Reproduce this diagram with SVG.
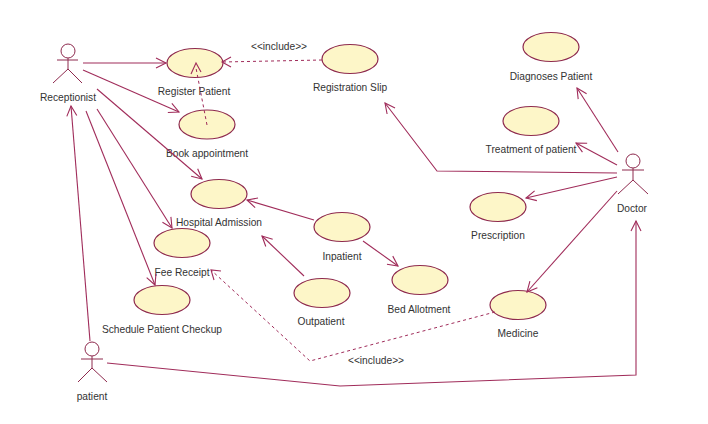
<svg xmlns="http://www.w3.org/2000/svg" width="708" height="424" viewBox="0 0 708 424">
<style>
.uc{fill:#fdf6c8;stroke:#8e2a4e;stroke-width:1.2}
.a{fill:none;stroke:#8e2a4e;stroke-width:1}
.c{fill:none;stroke:#a02c5a;stroke-width:1.1;marker-end:url(#h)}
.d{fill:none;stroke:#a02c5a;stroke-width:1;stroke-dasharray:3 3}
.h{fill:none;stroke:#a02c5a;stroke-width:1.1}
text{font-family:"Liberation Sans",Arial,sans-serif;font-size:10.2px;fill:#333;text-anchor:middle}
</style>
<defs>
<marker id="h" markerUnits="userSpaceOnUse" markerWidth="14" markerHeight="14" refX="11" refY="6" orient="auto"><path d="M1 1L11 6L1 11" fill="none" stroke="#a02c5a" stroke-width="1.1"/></marker>
</defs>
<rect width="708" height="424" fill="#fff"/>
<g id="receptionist"><circle class="a" cx="68" cy="51" r="7"/><path class="a" d="M57 60H78M68 58V69L53 83M68 69L82 83"/><text x="68" y="101">Receptionist</text></g>
<g id="patient"><circle class="a" cx="92" cy="349" r="7"/><path class="a" d="M81 359H103M92 356V368L78 382M92 368L107 382"/><text x="92" y="400">patient</text></g>
<g id="doctor"><circle class="a" cx="633" cy="161" r="7"/><path class="a" d="M622 170H644M633 168V180L618 194M633 180L648 194"/><text x="632" y="212">Doctor</text></g>
<g id="register-patient"><ellipse class="uc" cx="195" cy="63" rx="28" ry="14.5"/><text x="194" y="95">Register Patient</text></g>
<g id="book-appointment"><ellipse class="uc" cx="207" cy="124.500" rx="28" ry="14.5"/><text x="207" y="157">Book appointment</text></g>
<g id="hospital-admission"><ellipse class="uc" cx="219" cy="194" rx="28" ry="14.5"/><text x="219" y="226">Hospital Admission</text></g>
<g id="fee-receipt"><ellipse class="uc" cx="182" cy="243" rx="28" ry="14.5"/><text x="182" y="276">Fee Receipt</text></g>
<g id="schedule-patient-checkup"><ellipse class="uc" cx="162" cy="300" rx="28" ry="14.5"/><text x="162" y="333">Schedule Patient Checkup</text></g>
<g id="registration-slip"><ellipse class="uc" cx="350" cy="59" rx="28" ry="14.5"/><text x="350" y="91">Registration Slip</text></g>
<g id="inpatient"><ellipse class="uc" cx="342" cy="227" rx="28" ry="14.5"/><text x="342" y="260">Inpatient</text></g>
<g id="outpatient"><ellipse class="uc" cx="322" cy="293" rx="28" ry="14.5"/><text x="321" y="325">Outpatient</text></g>
<g id="bed-allotment"><ellipse class="uc" cx="420" cy="280" rx="28" ry="14.5"/><text x="419" y="313">Bed Allotment</text></g>
<g id="medicine"><ellipse class="uc" cx="518" cy="305" rx="28" ry="14.5"/><text x="518" y="337">Medicine</text></g>
<g id="diagnoses-patient"><ellipse class="uc" cx="551" cy="47" rx="28" ry="14.5"/><text x="551" y="80">Diagnoses Patient</text></g>
<g id="treatment-of-patient"><ellipse class="uc" cx="531" cy="121" rx="28" ry="14.5"/><text x="531" y="153">Treatment of patient</text></g>
<g id="prescription"><ellipse class="uc" cx="498" cy="207" rx="28" ry="14.5"/><text x="498" y="239">Prescription</text></g>
<g id="connectors">
<path class="c" d="M83 63H166"/>
<path class="c" d="M83 70L179 112"/>
<path class="c" d="M97 89L202 179"/>
<path class="c" d="M97 109L172 228"/>
<path class="c" d="M86 111L155 285"/>
<path class="c" d="M90 341L71 106"/>
<path class="c" d="M107 363L340 386L636 375V221"/>
<path class="c" d="M617 173L437 171L385 103"/>
<path class="c" d="M618 152L577 88"/>
<path class="c" d="M617 165L576 143"/>
<path class="c" d="M617 177L526 198"/>
<path class="c" d="M617 191L527 292"/>
<path class="c" d="M314 220L247 200"/>
<path class="c" d="M304 276L262 236"/>
<path class="c" d="M363 241L398 266"/>
<path class="d" d="M207 125L196 68"/><path class="h" d="M191 74L196 63L201 72"/>
<path class="d" d="M322 60L222 62"/><path class="h" d="M231 57L222 62L231 67"/>
<path class="d" d="M495 312L310 361L211 270"/><path class="h" d="M221 271L211 270L214 280"/>
<text x="279" y="50">&lt;&lt;include&gt;&gt;</text>
<text x="376" y="364">&lt;&lt;include&gt;&gt;</text>
</g>
</svg>
